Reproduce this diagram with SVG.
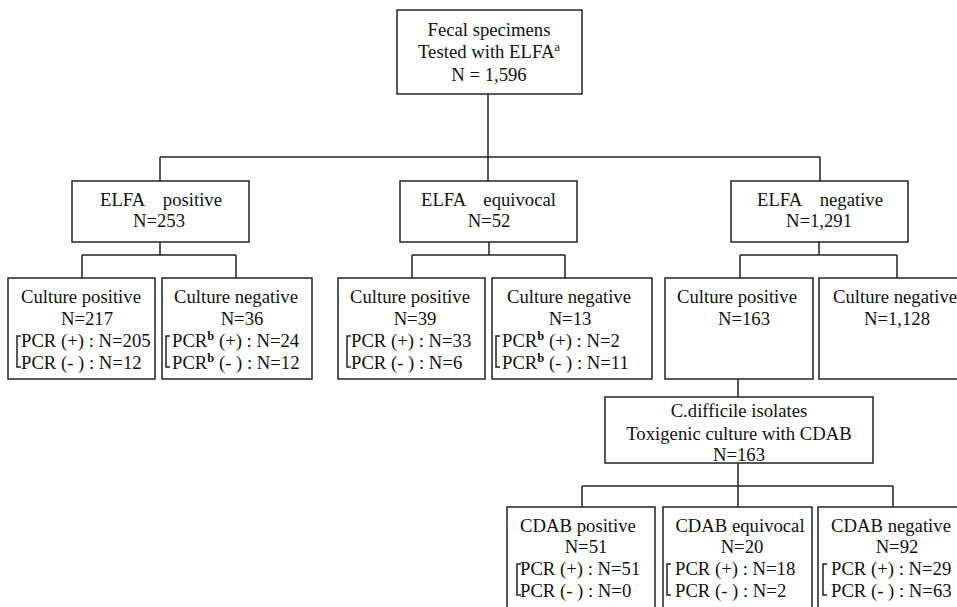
<svg xmlns="http://www.w3.org/2000/svg" width="957" height="607" viewBox="0 0 957 607" font-family="'Liberation Serif','Times New Roman',serif">
<style>
.box{fill:#fff;stroke:#222;stroke-width:1.5}
.ln{fill:none;stroke:#222;stroke-width:1.5}
text{font-family:"Liberation Serif","Times New Roman",serif;font-size:18.7px;fill:#111}
.m{text-anchor:middle}
.e{text-anchor:end}
.sup{font-size:12.5px;baseline-shift:super}
.supb{font-size:12.5px;font-weight:bold;baseline-shift:super}
</style>
<rect width="957" height="607" fill="#fff"/>
<g id="connectors">
<path class="ln" d="M488,94V181M160,157H820M160,157V181M820,157V181"/>
<path class="ln" d="M160,242V255M82,255H236M82,255V278M236,255V278"/>
<path class="ln" d="M489,242V255M412,255H565M412,255V278M565,255V278"/>
<path class="ln" d="M819,242V255M740,255H897M740,255V278M897,255V278"/>
<path class="ln" d="M738,379V397"/>
<path class="ln" d="M738,463V507M582,486H893M582,486V507M893,486V507"/>
</g>
<g id="top">
<rect class="box" x="397" y="10" width="185" height="84"/>
<text class="m" x="489" y="36">Fecal specimens</text>
<text class="m" x="489" y="58">Tested with ELFA<tspan class="sup">a</tspan></text>
<text class="m" x="489" y="81">N = 1,596</text>
</g>
<g id="elfa-pos">
<rect class="box" x="72" y="181" width="177" height="61"/>
<text x="100" y="206">ELFA</text><text class="e" x="222" y="206">positive</text>
<text class="m" x="159" y="227">N=253</text>
</g>
<g id="elfa-eq">
<rect class="box" x="400" y="181" width="177" height="61"/>
<text x="421" y="206">ELFA</text><text class="e" x="556" y="206">equivocal</text>
<text class="m" x="489" y="227">N=52</text>
</g>
<g id="elfa-neg">
<rect class="box" x="731" y="181" width="177" height="61"/>
<text x="757" y="206">ELFA</text><text class="e" x="883" y="206">negative</text>
<text class="m" x="819" y="227">N=1,291</text>
</g>
<g id="cp1">
<rect class="box" x="8" y="278" width="147" height="101"/>
<text class="m" x="81" y="303">Culture positive</text>
<text class="m" x="87" y="325">N=217</text>
<path class="ln" d="M21,336H17V367H21"/>
<text x="21" y="347">PCR (+) : N=205</text>
<text x="21" y="369">PCR (- ) : N=12</text>
</g>
<g id="cn1">
<rect class="box" x="162" y="278" width="150" height="101"/>
<text class="m" x="236" y="303">Culture negative</text>
<text class="m" x="242" y="325">N=36</text>
<path class="ln" d="M170,336H166V367H170"/>
<text x="172" y="347">PCR<tspan class="supb">b</tspan> (+) : N=24</text>
<text x="172" y="369">PCR<tspan class="supb">b</tspan> (- ) : N=12</text>
</g>
<g id="cp2">
<rect class="box" x="338" y="278" width="147" height="101"/>
<text class="m" x="410" y="303">Culture positive</text>
<text class="m" x="415" y="325">N=39</text>
<path class="ln" d="M351,336H347V367H351"/>
<text x="351" y="347">PCR (+) : N=33</text>
<text x="351" y="369">PCR (- ) : N=6</text>
</g>
<g id="cn2">
<rect class="box" x="492" y="278" width="160" height="101"/>
<text class="m" x="569" y="303">Culture negative</text>
<text class="m" x="570" y="325">N=13</text>
<path class="ln" d="M500,336H496V367H500"/>
<text x="502" y="347">PCR<tspan class="supb">b</tspan> (+) : N=2</text>
<text x="502" y="369">PCR<tspan class="supb">b</tspan> (- ) : N=11</text>
</g>
<g id="cp3">
<rect class="box" x="665" y="278" width="148" height="101"/>
<text class="m" x="737" y="303">Culture positive</text>
<text class="m" x="744" y="325">N=163</text>
</g>
<g id="cn3">
<rect class="box" x="819" y="278" width="145" height="101"/>
<text x="833" y="303">Culture negative</text>
<text class="m" x="897" y="325">N=1,128</text>
</g>
<g id="cdiff">
<rect class="box" x="605" y="397" width="268" height="66"/>
<text class="m" x="739" y="417">C.difficile isolates</text>
<text class="m" x="739" y="440">Toxigenic culture with CDAB</text>
<text class="m" x="739" y="461">N=163</text>
</g>
<g id="cdab-pos">
<rect class="box" x="507" y="507" width="148" height="110"/>
<text class="m" x="578" y="532">CDAB positive</text>
<text class="m" x="586" y="553">N=51</text>
<path class="ln" d="M521,564H517V595H521"/>
<text x="520" y="575">PCR (+) : N=51</text>
<text x="520" y="597">PCR (- ) : N=0</text>
</g>
<g id="cdab-eq">
<rect class="box" x="663" y="507" width="149" height="110"/>
<text class="m" x="740" y="532">CDAB equivocal</text>
<text class="m" x="742" y="553">N=20</text>
<path class="ln" d="M671,564H667V595H671"/>
<text x="675" y="575">PCR (+) : N=18</text>
<text x="675" y="597">PCR (- ) : N=2</text>
</g>
<g id="cdab-neg">
<rect class="box" x="818" y="507" width="146" height="110"/>
<text class="m" x="891" y="532">CDAB negative</text>
<text class="m" x="897" y="553">N=92</text>
<path class="ln" d="M827,564H823V595H827"/>
<text x="831" y="575">PCR (+) : N=29</text>
<text x="831" y="597">PCR (- ) : N=63</text>
</g>
</svg>
